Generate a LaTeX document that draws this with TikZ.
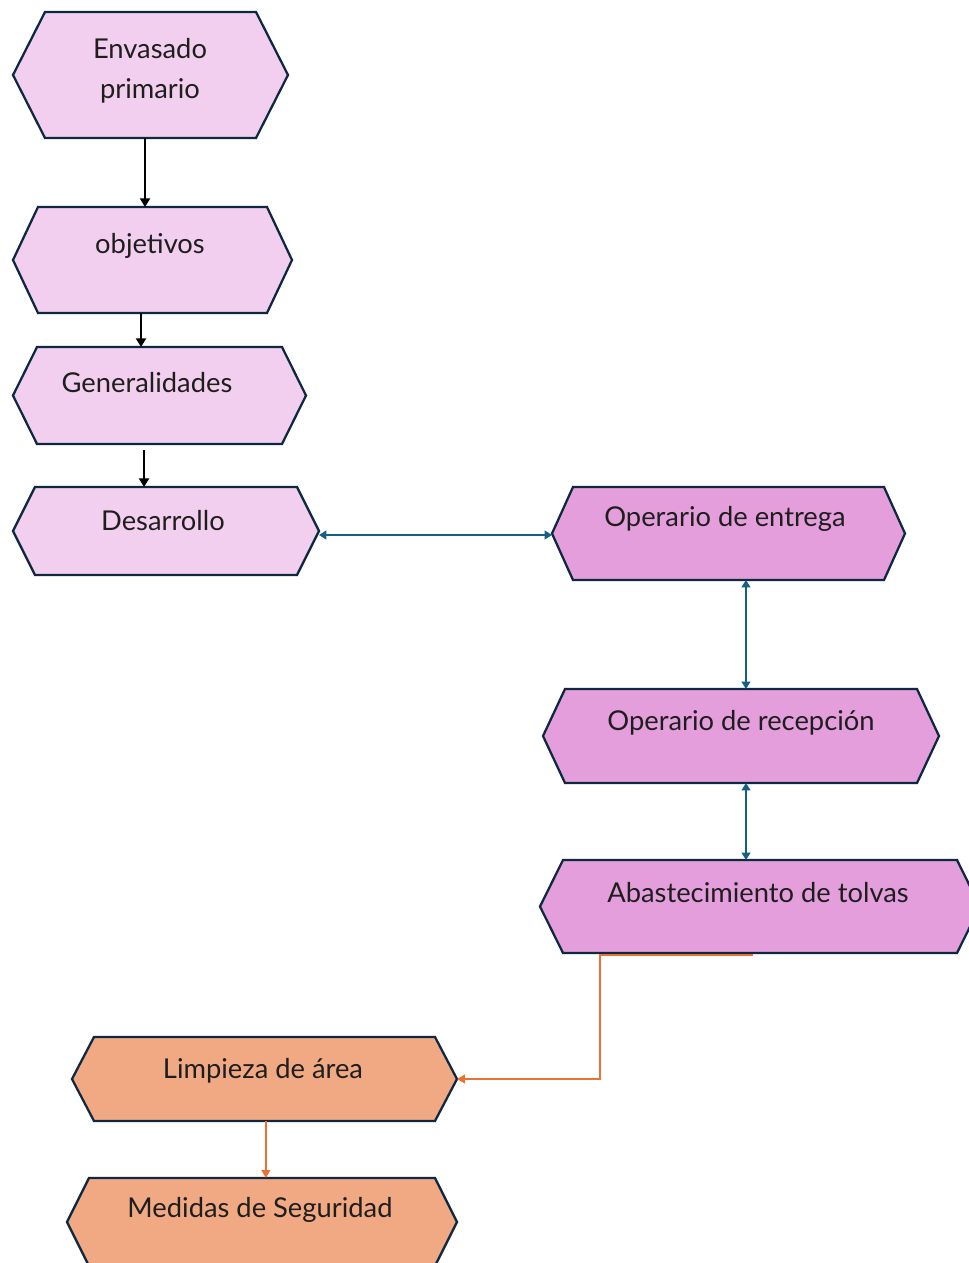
\documentclass[tikz,border=0pt]{standalone}
\usepackage{fontspec}
\setmainfont{Lato}
\usetikzlibrary{calc,arrows.meta}
\definecolor{hexborder}{HTML}{0E2841}
\definecolor{lightpink}{HTML}{F2CFEE}
\definecolor{midpink}{HTML}{E39EDB}
\definecolor{lightorange}{HTML}{F1A983}
\definecolor{accblue}{HTML}{156082}
\definecolor{accorange}{HTML}{E97132}
\definecolor{txt}{HTML}{1E1E1E}
\newcommand\myhex[7]{%
  \node[hexname, minimum width={2*#4*0.75pt}, minimum height={2*#5*0.75pt}] (#1) at (#2,#3) {};
  \draw[hexline, fill=#7] (#1.west) -- ($(#1.north west)+(#6,0)$) -- ($(#1.north east)+(-#6,0)$) -- (#1.east) -- ($(#1.south east)+(-#6,0)$) -- ($(#1.south west)+(#6,0)$) -- cycle;
}
\begin{document}
\begin{tikzpicture}[x=0.75pt,y=-0.75pt,
  hexname/.style={draw=none,inner sep=0pt,outer sep=0pt,rectangle},
  hexline/.style={draw=hexborder,line width=1.7pt,line join=miter},
  lbl/.style={text=txt,font=\fontsize{20.5}{30}\selectfont,align=center,inner sep=0pt},
  blk/.style={draw=black,line width=2pt,-{Triangle[length=6.5pt,width=7.5pt]}},
  blu/.style={draw=accblue,line width=1.8pt,{Triangle[length=5.5pt,width=6.5pt]}-{Triangle[length=5.5pt,width=6.5pt]}},
  org/.style={draw=accorange,line width=1.6pt,-{Triangle[length=6pt,width=6.5pt]}}]
\useasboundingbox (0,0) rectangle (969,1263);
\begin{scope}
\clip (0,0) rectangle (969,1263);
\myhex{n1}{150.5}{75}{137.5}{63}{32}{lightpink}
\myhex{n2}{152.5}{260}{139.5}{53}{25}{lightpink}
\myhex{n3}{159.5}{395.5}{146.5}{48.5}{24}{lightpink}
\myhex{n4}{166}{531}{153}{44}{22}{lightpink}
\myhex{n5}{728.5}{533.5}{176.5}{46.5}{21}{midpink}
\myhex{n6}{741}{736}{198}{47}{22}{midpink}
\myhex{n7}{760}{906.5}{220}{46.5}{23}{midpink}
\myhex{n8}{264.5}{1079}{192.5}{42}{22}{lightorange}
\myhex{n9}{262}{1222}{195}{44}{22}{lightorange}
\end{scope}
\node[lbl] (t1) at (150,71) {Envasado\\primario};
\node[lbl] (t2) at (150,246) {objetivos};
\node[lbl] (t3) at (147,383) {Generalidades};
\node[lbl] (t4) at (163,521) {Desarrollo};
\node[lbl] (t5) at (725,519) {Operario de entrega};
\node[lbl] (t6) at (741,723) {Operario de recepción};
\node[lbl] (t7) at (758,893) {Abastecimiento de tolvas};
\node[lbl] (t8) at (263,1071) {Limpieza de área};
\node[lbl] (t9) at (260,1210) {Medidas de Seguridad};
% connectors
\draw[blk] ([xshift=-4.1pt]n1.south) -- ([xshift=-4.1pt]n1.south |- n2.north);
\draw[blk] ([xshift=-8.6pt]n2.south) -- ([xshift=-8.6pt]n2.south |- n3.north);
\draw[blk] ([xshift=-11.6pt,yshift=-4.5pt]n3.south) -- ([xshift=-11.6pt]n3.south |- n4.north);
\draw[blu] ([yshift=-3pt]n4.east) -- ([yshift=-3pt]n4.east -| n5.west);
\draw[blu] ([xshift=13.1pt]n5.south) -- ([xshift=13.1pt]n5.south |- n6.north);
\draw[blu] ([xshift=3.75pt]n6.south) -- ([xshift=3.75pt]n6.south |- n7.north);
\draw[org] ([xshift=-5pt,yshift=-1.5pt]n7.south) -- ++(-114.75pt,0) |- (n8.east);
\draw[org] ([xshift=1pt]n8.south) -- ([xshift=1pt]n8.south |- n9.north);
\end{tikzpicture}
\end{document}
